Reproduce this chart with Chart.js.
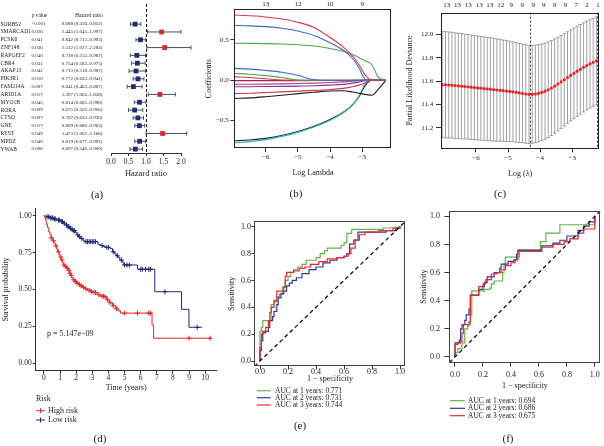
<!DOCTYPE html>
<html>
<head>
<meta charset="utf-8">
<title>Prognostic signature figure</title>
<script src="https://cdn.jsdelivr.net/npm/chart.js@4.4.1/dist/chart.umd.min.js"></script>
<style>
  html, body { margin: 0; padding: 0; background: #fff; }
  #fig { position: relative; width: 604px; height: 446px; overflow: hidden; font-family: 'Liberation Serif', serif; color: #222; }
  #fig canvas { position: absolute; }
  .tag { position: absolute; font-size: 11px; line-height: 11px; transform: translate(-50%, -50%); white-space: nowrap; }
</style>
</head>
<body>
<div id="fig">
  <canvas id="forest" width="200" height="200" style="left:0;top:0"></canvas>
  <canvas id="lasso" width="200" height="200" style="left:200px;top:0"></canvas>
  <canvas id="cv" width="204" height="200" style="left:400px;top:0"></canvas>
  <canvas id="km" width="225" height="246" style="left:0;top:200px"></canvas>
  <canvas id="rocTrain" width="205" height="246" style="left:205px;top:200px"></canvas>
  <canvas id="rocTest" width="199" height="246" style="left:405px;top:200px"></canvas>
  <div class="tag" style="left:97px;top:194px">(a)</div>
  <div class="tag" style="left:296px;top:193px">(b)</div>
  <div class="tag" style="left:500px;top:193px">(c)</div>
  <div class="tag" style="left:100px;top:438px">(d)</div>
  <div class="tag" style="left:300px;top:425px">(e)</div>
  <div class="tag" style="left:508px;top:438px">(f)</div>
</div>
<script>
// (a) univariate cox
const genes = ['SORBS2','SMARCAD1','PCSK6','ZNF148','RAPGEF2','CBR4','AKAP13','PIK3R1','FAM214A','ARID1A','MYO1B','RORA','CTSO','GNE','REST','MPDZ','YWAB'];
const pvals = ['<0.001','0.026','0.041','0.036','0.040','0.031','0.042','0.010','0.007','0.017','0.045','0.009','0.007','0.017','0.049','0.040','0.006'];
const hr     = [0.688,1.445,0.842,1.532,0.738,0.754,0.715,0.772,0.641,1.397,0.814,0.675,0.767,0.809,1.473,0.819,0.697];
const hrLow  = [0.556,1.045,0.713,1.027,0.552,0.583,0.518,0.633,0.463,1.062,0.665,0.503,0.633,0.680,1.002,0.677,0.540];
const hrHigh = [0.852,1.997,0.993,2.283,0.987,0.975,0.987,0.941,0.887,1.838,0.996,0.906,0.930,0.963,2.166,0.991,0.900];

// (b) lasso coefficient paths
const lassoLogLambda = [-6.975,-6.5,-6.0,-5.5,-5.0,-4.5,-4.0,-3.6,-3.3,-3.1,-2.9,-2.7,-2.5,-2.27];
const lassoTopAt = [-6,-5,-4,-3];
const lassoTopLabels = ['13','12','10','9'];
const coefPaths = [
  [0.81,0.80,0.785,0.76,0.72,0.655,0.53,0.415,0.30,0.19,0.06,0,0,0],
  [0.68,0.675,0.665,0.645,0.61,0.555,0.465,0.375,0.27,0.15,0.01,0,0,0],
  [0.46,0.458,0.455,0.45,0.44,0.425,0.395,0.36,0.32,0.28,0.24,0.19,0.04,0],
  [0.148,0.138,0.122,0.10,0.062,0.005,0,0,0,0,0,0,0,0],
  [0.087,0.075,0.058,0.035,0.002,0,0,0,0,0,0,0,0,0],
  [0.045,0.035,0.02,0.003,0,0,0,0,0,0,0,0,0,0],
  [-0.004,-0.004,-0.004,-0.004,-0.004,-0.003,-0.003,-0.002,-0.002,-0.001,0,0,0,0],
  [-0.05,-0.049,-0.047,-0.044,-0.04,-0.035,-0.028,-0.02,-0.012,-0.006,0,0,0,0],
  [-0.08,-0.079,-0.077,-0.075,-0.072,-0.068,-0.06,-0.05,-0.035,-0.02,-0.005,0,0,0],
  [-0.165,-0.16,-0.152,-0.143,-0.134,-0.125,-0.115,-0.1,-0.08,-0.06,-0.03,0,0,0],
  [-0.225,-0.218,-0.203,-0.185,-0.165,-0.148,-0.133,-0.13,-0.145,-0.16,-0.175,-0.185,-0.11,0],
  [-0.775,-0.76,-0.735,-0.695,-0.645,-0.58,-0.495,-0.405,-0.305,-0.195,-0.035,0,0,0],
  [-0.75,-0.74,-0.72,-0.685,-0.635,-0.57,-0.485,-0.40,-0.30,-0.20,-0.06,0,0,0]
];
const pathColors = ['#d4364c','#3a6cc8','#4ea84a','#3a6cc8','#4ea84a','#d4364c','#9b2350','#c0388a','#7a3a96','#d4364c','#1e1e1e','#2bb3c2','#1e1e1e'];

// (c) cross-validation
const cvLogLambda = [-7.05,-6.95,-6.85,-6.75,-6.65,-6.55,-6.45,-6.35,-6.25,-6.15,
  -6.05,-5.95,-5.85,-5.75,-5.65,-5.55,-5.45,-5.35,-5.25,-5.15,
  -5.05,-4.95,-4.85,-4.75,-4.65,-4.55,-4.45,-4.35,-4.25,-4.15,
  -4.05,-3.95,-3.85,-3.75,-3.65,-3.55,-3.45,-3.35,-3.25,-3.15,
  -3.05,-2.95,-2.85,-2.75,-2.65,-2.55,-2.45,-2.35,-2.25];
const cvMean = [11.570,11.568,11.566,11.564,11.561,11.558,11.556,11.553,11.550,11.547,
  11.544,11.541,11.538,11.535,11.532,11.529,11.526,11.523,11.520,11.517,
  11.514,11.511,11.507,11.503,11.498,11.493,11.489,11.486,11.486,11.489,
  11.495,11.503,11.513,11.525,11.540,11.556,11.574,11.592,11.611,11.630,
  11.648,11.666,11.684,11.700,11.717,11.732,11.746,11.760,11.773];
const cvSd = [0.455,0.455,0.454,0.453,0.452,0.451,0.450,0.449,0.448,0.447,
  0.446,0.445,0.444,0.443,0.442,0.441,0.440,0.438,0.436,0.434,
  0.432,0.430,0.428,0.426,0.424,0.422,0.421,0.420,0.419,0.418,
  0.416,0.414,0.412,0.410,0.407,0.404,0.401,0.398,0.395,0.392,
  0.390,0.388,0.386,0.384,0.382,0.380,0.378,0.377,0.376];
const cvTopAt = [-6.91,-6.58,-6.24,-5.90,-5.57,-5.23,-4.90,-4.56,-4.22,-3.89,-3.55,-3.21,-2.88,-2.54,-2.20];
const cvTopLabels = ['13','13','13','13','13','12','9','9','9','9','9','9','7','2','1'];
const lambdaMin = -4.31;
const lambda1se = -2.22;

// (d) Kaplan-Meier
const highT = [0,0.05,0.1,0.15,0.22,0.3,0.38,0.45,0.55,0.62,0.7,0.78,0.85,0.92,1.0,1.08,1.15,1.22,1.3,1.42,1.5,1.58,1.65,1.72,1.8,1.9,2.0,2.12,2.25,2.4,2.55,2.7,2.9,3.05,3.3,3.5,3.75,3.9,4.05,4.25,4.45,4.6,4.75,6.7,6.8,10.4];
const highS = [1.0,0.985,0.97,0.94,0.92,0.89,0.87,0.85,0.83,0.815,0.795,0.775,0.755,0.735,0.72,0.70,0.68,0.665,0.655,0.645,0.63,0.61,0.595,0.58,0.565,0.555,0.545,0.535,0.525,0.515,0.505,0.495,0.485,0.48,0.465,0.455,0.45,0.43,0.41,0.39,0.37,0.355,0.34,0.26,0.17,0.17];
const highCens = [0.45,0.6,0.75,0.9,1.05,1.12,1.25,1.35,1.45,1.55,1.62,1.7,1.85,1.95,2.05,2.2,2.3,2.45,2.6,2.8,2.95,3.1,3.2,3.4,3.6,3.7,3.8,3.95,4.1,4.3,4.5,5.0,5.8,6.5,6.6,9.0,10.3];
const lowT = [0,0.1,0.35,0.6,0.8,1.05,1.2,1.3,1.45,1.6,1.7,1.8,1.95,2.05,2.15,2.25,2.4,2.5,3.35,3.5,3.65,3.85,4.1,4.25,4.4,4.5,4.6,4.7,4.85,4.95,5.8,6.87,8.53,8.99,9.8];
const lowS = [1.0,0.993,0.985,0.978,0.97,0.96,0.95,0.937,0.925,0.915,0.905,0.898,0.885,0.87,0.858,0.845,0.835,0.824,0.806,0.798,0.79,0.785,0.778,0.755,0.74,0.728,0.718,0.70,0.685,0.666,0.637,0.485,0.366,0.244,0.244];
const lowCens = [0.2,0.3,0.4,0.5,0.55,0.65,0.7,0.9,0.95,1.1,1.15,1.25,1.4,1.5,1.55,1.65,1.75,1.85,1.9,2.1,2.2,2.35,2.6,2.7,2.8,2.9,3.0,3.1,3.2,3.6,3.9,4.0,4.3,4.55,4.8,5.0,5.15,5.3,6.0,6.1,6.3,6.5,6.6,7.5,9.5];
const kmPValue = '5.147e\u221209';

// (e) ROC, training set
const years = [1, 2, 3];
const aucTrain = [0.771, 0.731, 0.744];
const fprTrain1 = [0,0,0.01,0.02,0.04,0.08,0.1,0.12,0.14,0.16,0.18,0.2,0.22,0.24,0.27,0.3,0.33,0.4,0.43,0.46,0.48,0.58,0.6,0.62,0.655,0.88,0.99,1];
const tprTrain1 = [0,0.22,0.25,0.3,0.3,0.42,0.44,0.48,0.5,0.55,0.6,0.63,0.66,0.68,0.7,0.72,0.75,0.77,0.8,0.82,0.84,0.86,0.88,0.95,0.98,0.99,1.0,1.0];
const fprTrain2 = [0,0,0.01,0.02,0.04,0.06,0.07,0.09,0.1,0.12,0.13,0.15,0.17,0.19,0.21,0.23,0.26,0.3,0.35,0.4,0.45,0.5,0.55,0.6,0.62,0.64,0.67,0.7,0.8,0.9,0.97,1];
const tprTrain2 = [0,0.08,0.15,0.21,0.22,0.25,0.3,0.33,0.37,0.42,0.47,0.5,0.52,0.56,0.58,0.6,0.62,0.65,0.68,0.7,0.73,0.75,0.77,0.78,0.8,0.87,0.9,0.96,0.96,0.97,0.99,1.0];
const fprTrain3 = [0,0,0.01,0.02,0.04,0.06,0.07,0.08,0.1,0.12,0.15,0.17,0.18,0.19,0.24,0.28,0.32,0.36,0.42,0.48,0.55,0.6,0.63,0.65,0.68,0.71,0.75,0.85,0.95,1];
const tprTrain3 = [0,0.1,0.2,0.22,0.25,0.3,0.36,0.4,0.45,0.52,0.52,0.55,0.63,0.66,0.67,0.69,0.7,0.72,0.74,0.76,0.77,0.78,0.8,0.84,0.9,0.94,0.96,0.97,0.99,1.0];

// (f) ROC, validation set
const aucTest = [0.694, 0.686, 0.675];
const fprTest1 = [0,0,0.02,0.05,0.07,0.09,0.1,0.11,0.12,0.2,0.21,0.25,0.26,0.28,0.33,0.34,0.35,0.36,0.45,0.46,0.6,0.61,0.65,0.74,0.75,0.97,1];
const tprTest1 = [0,0.03,0.06,0.1,0.2,0.22,0.23,0.3,0.47,0.47,0.48,0.49,0.52,0.54,0.54,0.6,0.66,0.71,0.71,0.76,0.76,0.82,0.88,0.88,0.94,0.94,1];
const fprTest2 = [0,0,0.01,0.03,0.04,0.05,0.07,0.08,0.1,0.11,0.16,0.17,0.2,0.21,0.23,0.26,0.28,0.32,0.33,0.37,0.38,0.42,0.44,0.45,0.6,0.62,0.7,0.75,0.8,0.85,0.88,0.92,0.96,1];
const tprTest2 = [0,0.1,0.1,0.12,0.2,0.23,0.26,0.3,0.34,0.44,0.44,0.48,0.5,0.53,0.57,0.57,0.6,0.63,0.66,0.66,0.68,0.69,0.73,0.76,0.76,0.79,0.81,0.83,0.86,0.86,0.9,0.93,0.96,1];
const fprTest3 = [0,0,0.02,0.04,0.05,0.06,0.09,0.1,0.11,0.16,0.17,0.2,0.22,0.26,0.3,0.33,0.36,0.4,0.43,0.45,0.6,0.62,0.7,0.78,0.82,0.88,0.92,0.97,1];
const tprTest3 = [0,0.09,0.1,0.11,0.17,0.23,0.23,0.25,0.44,0.44,0.5,0.52,0.55,0.59,0.6,0.62,0.65,0.67,0.69,0.75,0.75,0.78,0.8,0.82,0.84,0.88,0.91,0.91,1];

const SERIF = "'Liberation Serif', 'Times New Roman', serif";
const RED = '#e8242b';
const NAVY = '#1f2d78';
const ROC_COLORS = ['#62b34a', '#2d3c9a', '#f0262d'];

Chart.defaults.font.family = SERIF;
Chart.defaults.color = '#222';
Chart.defaults.animation = false;
Chart.defaults.responsive = false;
Chart.defaults.devicePixelRatio = 1;
Chart.defaults.events = [];
Chart.defaults.plugins.legend.display = false;
Chart.defaults.plugins.tooltip.enabled = false;

const signed = d => v => (v < 0 ? '\u2212' : '') + Math.abs(v).toFixed(d);

// linear axis whose size, ticks and spacing are pinned
function linAxis(o) {
  const hasTicks = !!o.tl;
  return {
    type: 'linear', position: o.pos, min: o.min, max: o.max, reverse: !!o.reverse,
    afterBuildTicks: s => { s.ticks = o.ticks.map(v => ({ value: v })); },
    afterFit: s => { if (o.size != null) { if (s.isHorizontal()) s.height = o.size; else s.width = o.size; } },
    border: { display: !!o.line, color: '#333', width: 1 },
    grid: { display: hasTicks, drawOnChartArea: false, drawTicks: hasTicks, tickLength: o.tl || 0, color: '#333' },
    ticks: { font: { size: o.fs || 7 }, padding: o.pad || 0, color: '#222', maxRotation: 0, autoSkip: false,
             callback: o.fmt || (v => v) },
    title: o.title ? { display: true, text: o.title, font: { size: o.tfs || 8 }, color: '#222', padding: o.tpad }
                   : { display: false }
  };
}

const frame = color => ({
  id: 'frame',
  afterDraw(c) {
    const a = c.chartArea, g = c.ctx;
    g.save();
    g.strokeStyle = color; g.lineWidth = 1;
    g.strokeRect(Math.round(a.left) + 0.5, Math.round(a.top) + 0.5, Math.round(a.right - a.left) - 1, Math.round(a.bottom - a.top) - 1);
    g.restore();
  }
});

// ---------- (a) forest plot ----------
const forestPlugin = {
  id: 'forest',
  beforeDatasetsDraw(c) {
    const g = c.ctx, x = c.scales.x, y = c.scales.y, a = c.chartArea;
    g.save();
    g.strokeStyle = '#111'; g.lineWidth = 1; g.setLineDash([3, 2]);
    const x1 = Math.round(x.getPixelForValue(1)) + 0.5;
    g.beginPath(); g.moveTo(x1, a.top); g.lineTo(x1, a.bottom); g.stroke();
    g.setLineDash([]);
    g.strokeStyle = '#4b4f5c';
    hr.forEach((v, i) => {
      const py = y.getPixelForValue(i);
      const l = x.getPixelForValue(hrLow[i]), h = x.getPixelForValue(hrHigh[i]);
      g.beginPath();
      g.moveTo(l, py); g.lineTo(h, py);
      g.moveTo(l, py - 2); g.lineTo(l, py + 2);
      g.moveTo(h, py - 2); g.lineTo(h, py + 2);
      g.stroke();
    });
    g.restore();
  },
  afterDraw(c) {
    const g = c.ctx, y = c.scales.y;
    g.save();
    g.fillStyle = '#222'; g.textBaseline = 'middle';
    g.font = `5.2px ${SERIF}`;
    g.textAlign = 'center'; g.fillText('p value', 39.5, 15.7);
    g.font = `5.6px ${SERIF}`;
    g.textAlign = 'right'; g.fillText('Hazard ratio', 102.7, 15.7);
    genes.forEach((name, i) => {
      const py = y.getPixelForValue(i);
      g.font = `5.6px ${SERIF}`; g.textAlign = 'left'; g.fillText(name, 0.5, py);
      g.font = `5px ${SERIF}`; g.fillText(pvals[i], 31.5, py);
      g.textAlign = 'right';
      g.fillText(`${hr[i].toFixed(3)} (${hrLow[i].toFixed(3)}\u2013${hrHigh[i].toFixed(3)})`, 102.5, py);
    });
    g.restore();
  }
};

new Chart(document.getElementById('forest'), {
  type: 'scatter',
  data: { datasets: [{
    data: hr.map((v, i) => ({ x: v, y: i })),
    pointStyle: 'rect', pointRadius: 3.4, pointBorderWidth: 0,
    pointBackgroundColor: hr.map(v => v > 1 ? RED : NAVY)
  }] },
  options: {
    layout: { padding: { left: 111, right: 19, top: 3, bottom: 0 } },
    scales: {
      x: linAxis({ pos: 'bottom', min: 0, max: 2, ticks: [0, 0.5, 1, 1.5, 2], size: 47, line: true, tl: 3, pad: 2, fs: 7.5,
                   fmt: v => v.toFixed(1), title: 'Hazard ratio', tfs: 8.5, tpad: { top: 0, bottom: 21.5 } }),
      y: { type: 'linear', min: -2.58, max: 16.5, reverse: true, display: false }
    }
  },
  plugins: [forestPlugin]
});

// ---------- (b) lasso paths ----------
new Chart(document.getElementById('lasso'), {
  type: 'scatter',
  data: { datasets: coefPaths.map((p, k) => ({
    data: lassoLogLambda.map((l, i) => ({ x: l, y: p[i] })),
    showLine: true, borderColor: pathColors[k], borderWidth: 1.1, pointRadius: 0,
    cubicInterpolationMode: 'monotone'
  })) },
  options: {
    layout: { padding: { left: 0, right: 8.3, top: 0, bottom: 0 } },
    scales: {
      x: linAxis({ pos: 'bottom', min: -6.975, max: -2.087, ticks: [-6, -5, -4, -3], size: 52, tl: 4, pad: 1, fs: 7,
                   fmt: signed(0), title: 'Log Lambda', tfs: 8, tpad: { top: 0, bottom: 22 } }),
      xTop: { ...linAxis({ pos: 'top', min: -6.975, max: -2.087, ticks: lassoTopAt, size: 9.3, pad: 1, fs: 7,
                           fmt: (v, i) => lassoTopLabels[i] }), axis: 'x' },
      y: linAxis({ pos: 'left', min: -0.839, max: 0.88, ticks: [-0.5, 0, 0.5], size: 34.3, tl: 4, pad: 1.5, fs: 7,
                   fmt: signed(1), title: 'Coefficients', tfs: 8, tpad: { top: 4, bottom: 0 } })
    }
  },
  plugins: [frame('#222')]
});

// ---------- (c) cross-validation curve ----------
const cvPlugin = {
  id: 'cvbars',
  beforeDatasetsDraw(c) {
    const g = c.ctx, x = c.scales.x, y = c.scales.y, a = c.chartArea;
    g.save();
    g.strokeStyle = '#8a8a8a'; g.lineWidth = 0.8;
    cvLogLambda.forEach((l, i) => {
      const px = x.getPixelForValue(l);
      const up = y.getPixelForValue(cvMean[i] + cvSd[i]), lo = y.getPixelForValue(cvMean[i] - cvSd[i]);
      g.beginPath();
      g.moveTo(px, up); g.lineTo(px, lo);
      g.moveTo(px - 1.7, up); g.lineTo(px + 1.7, up);
      g.moveTo(px - 1.7, lo); g.lineTo(px + 1.7, lo);
      g.stroke();
    });
    g.strokeStyle = '#333'; g.lineWidth = 1; g.setLineDash([2, 2]);
    [lambdaMin, lambda1se].forEach(l => {
      const px = Math.round(x.getPixelForValue(l)) + 0.5;
      g.beginPath(); g.moveTo(px, a.top); g.lineTo(px, a.bottom); g.stroke();
    });
    g.restore();
  }
};

new Chart(document.getElementById('cv'), {
  type: 'scatter',
  data: { datasets: [{
    data: cvLogLambda.map((l, i) => ({ x: l, y: cvMean[i] })),
    pointRadius: 1.6, pointBorderWidth: 0, pointBackgroundColor: RED
  }] },
  options: {
    layout: { padding: { left: 0, right: 4.7, top: 0, bottom: 0 } },
    scales: {
      x: linAxis({ pos: 'bottom', min: -7.09, max: -2.16, ticks: [-6, -5, -4, -3], size: 51.7, tl: 4, pad: 1.8, fs: 7,
                   fmt: signed(0), title: 'Log (\u03bb)', tfs: 8, tpad: { top: 0, bottom: 21.5 } }),
      xTop: { ...linAxis({ pos: 'top', min: -7.09, max: -2.16, ticks: cvTopAt, size: 12.7, pad: 3.5, fs: 7,
                           fmt: (v, i) => cvTopLabels[i] }), axis: 'x' },
      y: linAxis({ pos: 'left', min: 11.024, max: 12.185, ticks: [11.2, 11.4, 11.6, 11.8, 12.0], size: 41, tl: 5, pad: 2.7, fs: 7,
                   fmt: v => v.toFixed(1), title: 'Partial Likelihood Deviance', tfs: 8, tpad: { top: 5.5, bottom: 0 } })
    }
  },
  plugins: [cvPlugin, frame('#222')]
});

// ---------- (d) Kaplan-Meier ----------
function survAt(T, S, t) {
  let s = S[0];
  for (let i = 0; i < T.length; i++) if (T[i] <= t) s = S[i];
  return s;
}
const kmGroups = [
  { label: 'High risk', color: RED, T: highT, S: highS, cens: highCens },
  { label: 'Low risk', color: NAVY, T: lowT, S: lowS, cens: lowCens }
];
const kmDeco = {
  id: 'kmDeco',
  afterDraw(c) {
    const g = c.ctx;
    g.save();
    g.fillStyle = '#222'; g.textBaseline = 'middle'; g.textAlign = 'left';
    g.font = `8px ${SERIF}`;
    g.fillText('p = ' + kmPValue, 47, 134);
    g.fillText('Risk', 36, 199);
    kmGroups.forEach((grp, i) => {
      const yy = [210.7, 220][i];
      g.strokeStyle = grp.color; g.lineWidth = 1;
      g.beginPath();
      g.moveTo(36, yy); g.lineTo(45, yy);
      g.moveTo(40.5, yy - 2.5); g.lineTo(40.5, yy + 2.5);
      g.stroke();
      g.fillText(grp.label, 48, yy);
    });
    g.restore();
  }
};

new Chart(document.getElementById('km'), {
  type: 'scatter',
  data: { datasets: kmGroups.flatMap(grp => [
    { data: grp.T.map((t, i) => ({ x: t, y: grp.S[i] })), showLine: true, stepped: true,
      borderColor: grp.color, borderWidth: 1, pointRadius: 0 },
    { data: grp.cens.map(t => ({ x: t, y: survAt(grp.T, grp.S, t) })), showLine: false,
      pointStyle: 'cross', pointRadius: 2.5, pointBorderColor: grp.color, pointBorderWidth: 1 }
  ]) },
  options: {
    layout: { padding: { left: 0, right: 8.3, top: 8.3, bottom: 0 } },
    scales: {
      x: linAxis({ pos: 'bottom', min: -0.51, max: 10.71, ticks: [0,1,2,3,4,5,6,7,8,9,10], size: 75.3, line: true, tl: 3, pad: -0.5, fs: 7.5,
                   fmt: v => String(v), title: 'Time (years)', tfs: 8, tpad: { top: 0, bottom: 53 } }),
      y: linAxis({ pos: 'left', min: -0.05, max: 1.05, ticks: [0, 0.25, 0.5, 0.75, 1], size: 35.7, line: true, tl: 3, pad: 1, fs: 7.5,
                   fmt: v => v.toFixed(2), title: 'Survival probability', tfs: 8, tpad: { top: 1.5, bottom: 0 } })
    }
  },
  plugins: [kmDeco]
});

// ---------- (e), (f) ROC ----------
function rocChart(id, geo, fprs, tprs, aucs) {
  const items = years.map((yr, k) => ({ color: ROC_COLORS[k], label: `AUC at ${yr} years: ${aucs[k].toFixed(3)}` }));
  const legend = {
    id: 'rocLegend',
    afterDraw(c) {
      const g = c.ctx;
      g.save();
      g.font = `7.5px ${SERIF}`; g.textBaseline = 'middle'; g.textAlign = 'left';
      items.forEach((it, i) => {
        const yy = geo.legY[i];
        g.strokeStyle = it.color; g.lineWidth = 1.2;
        g.beginPath(); g.moveTo(geo.legX0, yy); g.lineTo(geo.legX1, yy); g.stroke();
        g.fillStyle = '#222'; g.fillText(it.label, geo.legTx, yy);
      });
      g.restore();
    }
  };
  const curves = [2, 1, 0].map(k => ({
    data: fprs[k].map((f, i) => ({ x: f, y: tprs[k][i] })), showLine: true, stepped: true,
    borderColor: ROC_COLORS[k], borderWidth: 1.2, pointRadius: 0
  }));
  return new Chart(document.getElementById(id), {
    type: 'scatter',
    data: { datasets: [
      { data: [{ x: -0.04, y: -0.04 }, { x: 1.04, y: 1.04 }], showLine: true, borderColor: '#111',
        borderWidth: 1.3, borderDash: [4, 3], pointRadius: 0 },
      ...curves
    ] },
    options: {
      layout: { padding: { left: 0, right: geo.right, top: geo.top, bottom: 0 } },
      scales: {
        x: linAxis({ pos: 'bottom', min: -0.04, max: 1.04, ticks: [0, 0.2, 0.4, 0.6, 0.8, 1], size: geo.xh, tl: geo.xtl, pad: geo.xpad, fs: 8,
                     fmt: v => v.toFixed(1), title: '1 \u2212 specificity', tfs: 8, tpad: { top: 0, bottom: geo.xtpad } }),
        y: linAxis({ pos: 'left', min: -0.04, max: 1.04, ticks: [0, 0.2, 0.4, 0.6, 0.8, 1], size: geo.yw, tl: geo.ytl, pad: geo.ypad, fs: 8,
                     fmt: v => v.toFixed(1), title: 'Sensitivity', tfs: 8, tpad: { top: geo.ytpad, bottom: 0 } })
      }
    },
    plugins: [frame('#444'), legend]
  });
}

rocChart('rocTrain',
  { top: 21.3, right: 4.4, xh: 79.6, xtl: 3, xpad: -2.5, xtpad: 62.5, yw: 49.4, ytl: 3, ypad: 0.5, ytpad: 22,
    legY: [190.7, 197.7, 205], legX0: 51.7, legX1: 65.7, legTx: 70 },
  [fprTrain1, fprTrain2, fprTrain3], [tprTrain1, tprTrain2, tprTrain3], aucTrain);

rocChart('rocTest',
  { top: 10.7, right: 3.4, xh: 83.4, xtl: 4, xpad: 4, xtpad: 54.8, yw: 44.4, ytl: 5, ypad: 4.4, ytpad: 13.8,
    legY: [200.7, 208.3, 215.7], legX0: 45, legX1: 60, legTx: 63 },
  [fprTest1, fprTest2, fprTest3], [tprTest1, tprTest2, tprTest3], aucTest);
</script>
</body>
</html>
